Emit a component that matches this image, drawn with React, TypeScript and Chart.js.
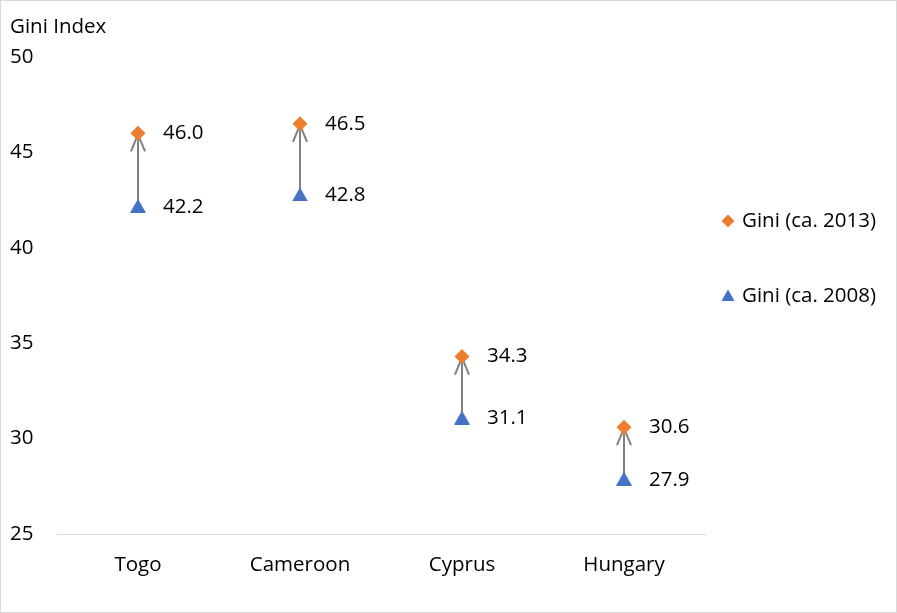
import React, { useEffect, useRef } from 'react';
import { Chart, registerables } from 'chart.js';

Chart.register(...registerables);

const countries = ['Togo', 'Cameroon', 'Cyprus', 'Hungary'];
const gini2013 = [46.0, 46.5, 34.3, 30.6];
const gini2008 = [42.2, 42.8, 31.1, 27.9];
const seriesNames = ['Gini (ca. 2013)', 'Gini (ca. 2008)'];
const axisTitle = 'Gini Index';
const yMin = 25;
const yMax = 50;
const yStep = 5;

const FONT_FAMILY = '"Open Sans", sans-serif';
const FONT_SIZE = 20.5;
const ORANGE = '#ED7D31';
const BLUE = '#4472C4';
const ARROW = '#808080';
const LINEGRAY = '#D9D9D9';

function makeTriangle(w: number, h: number, color: string) {
  const c = document.createElement('canvas');
  c.width = w;
  c.height = h;
  const g = c.getContext('2d')!;
  g.fillStyle = color;
  g.beginPath();
  g.moveTo(w / 2, 0);
  g.lineTo(w, h);
  g.lineTo(0, h);
  g.closePath();
  g.fill();
  return c;
}

const decoPlugin = {
  id: 'deco',
  beforeDraw(chart: any) {
    const ctx = chart.ctx;
    ctx.save();
    ctx.fillStyle = '#ffffff';
    ctx.fillRect(0, 0, chart.width, chart.height);
    ctx.restore();
  },
  beforeDatasetsDraw(chart: any) {
    const ctx = chart.ctx;
    const top = chart.getDatasetMeta(0);
    const bottom = chart.getDatasetMeta(1);
    ctx.save();
    ctx.strokeStyle = ARROW;
    ctx.lineWidth = 2;
    ctx.lineCap = 'butt';
    ctx.lineJoin = 'miter';
    for (let i = 0; i < countries.length; i++) {
      const p1 = bottom.data[i];
      const p2 = top.data[i];
      if (!p1 || !p2) continue;
      const x = p2.x;
      const y1 = p1.y;
      const y2 = p2.y;
      const dir = y2 < y1 ? 1 : -1;
      ctx.beginPath();
      ctx.moveTo(x, y1);
      ctx.lineTo(x, y2);
      ctx.stroke();
      ctx.beginPath();
      ctx.moveTo(x - 7, y2 + dir * 18);
      ctx.lineTo(x, y2 + dir * 1);
      ctx.lineTo(x + 7, y2 + dir * 18);
      ctx.stroke();
    }
    ctx.restore();
  },
  afterDatasetsDraw(chart: any) {
    const ctx = chart.ctx;
    ctx.save();
    ctx.font = `${FONT_SIZE}px ${FONT_FAMILY}`;
    ctx.fillStyle = '#000000';
    ctx.textAlign = 'left';
    ctx.textBaseline = 'middle';
    const values = [gini2013, gini2008];
    values.forEach((arr, di) => {
      const meta = chart.getDatasetMeta(di);
      arr.forEach((v, i) => {
        const pt = meta.data[i];
        if (!pt) return;
        ctx.fillText(v.toFixed(1), pt.x + 25, pt.y + (di === 1 ? 1 : 0));
      });
    });

    // axis title
    ctx.fillText(axisTitle, 10, 27);

    // legend
    const legendX = 728;
    const legendRows = [221, 296];
    ctx.fillStyle = ORANGE;
    ctx.beginPath();
    ctx.moveTo(legendX, legendRows[0] - 6.5);
    ctx.lineTo(legendX + 6.5, legendRows[0]);
    ctx.lineTo(legendX, legendRows[0] + 6.5);
    ctx.lineTo(legendX - 6.5, legendRows[0]);
    ctx.closePath();
    ctx.fill();
    ctx.fillStyle = BLUE;
    ctx.beginPath();
    ctx.moveTo(legendX, legendRows[1] - 6.5);
    ctx.lineTo(legendX + 6.5, legendRows[1] + 5);
    ctx.lineTo(legendX - 6.5, legendRows[1] + 5);
    ctx.closePath();
    ctx.fill();
    ctx.fillStyle = '#000000';
    seriesNames.forEach((name, i) => {
      ctx.fillText(name, 742, legendRows[i]);
    });

    // outer border
    ctx.strokeStyle = LINEGRAY;
    ctx.lineWidth = 1;
    ctx.strokeRect(0.5, 0.5, chart.width - 1, chart.height - 1);
    ctx.restore();
  },
};

export default function App() {
  const canvasRef = useRef<HTMLCanvasElement | null>(null);

  useEffect(() => {
    document.body.style.margin = '0';
    const canvas = canvasRef.current;
    if (!canvas) return;
    const triangleImg = makeTriangle(16, 14, BLUE);
    const chart = new Chart(canvas, {
      type: 'line',
      data: {
        labels: countries,
        datasets: [
          {
            label: seriesNames[0],
            data: gini2013,
            showLine: false,
            pointStyle: 'rectRot',
            pointRadius: 7.5,
            pointBackgroundColor: ORANGE,
            pointBorderColor: ORANGE,
            pointBorderWidth: 0,
            backgroundColor: ORANGE,
            borderColor: ORANGE,
          },
          {
            label: seriesNames[1],
            data: gini2008,
            showLine: false,
            pointStyle: triangleImg,
            pointRadius: 8,
            pointBackgroundColor: BLUE,
            pointBorderColor: BLUE,
            pointBorderWidth: 0,
            backgroundColor: BLUE,
            borderColor: BLUE,
          },
        ],
      },
      options: {
        responsive: false,
        animation: false,
        devicePixelRatio: 1,
        layout: { padding: { top: 57, right: 192, bottom: 0, left: 10 } },
        plugins: {
          legend: { display: false },
          tooltip: { enabled: false },
        },
        scales: {
          x: {
            type: 'category',
            offset: true,
            grid: { display: false, drawTicks: false },
            border: { display: true, color: LINEGRAY, width: 1 },
            ticks: {
              color: '#000000',
              font: { family: FONT_FAMILY, size: FONT_SIZE },
              padding: 19,
              maxRotation: 0,
              autoSkip: false,
            },
            afterFit: (s: any) => {
              s.height = 79;
            },
          },
          y: {
            type: 'linear',
            min: yMin,
            max: yMax,
            grid: { display: false, drawTicks: false },
            border: { display: false },
            ticks: {
              stepSize: yStep,
              color: '#000000',
              font: { family: FONT_FAMILY, size: FONT_SIZE },
              crossAlign: 'far',
              padding: 0,
            },
            afterFit: (s: any) => {
              s.width = 47;
            },
          },
        },
      },
      plugins: [decoPlugin],
    } as any);
    return () => chart.destroy();
  }, []);

  return (
    <div style={{ position: 'fixed', left: 0, top: 0, width: 897, height: 613 }}>
      <canvas ref={canvasRef} width={897} height={613} style={{ display: 'block' }} />
    </div>
  );
}
